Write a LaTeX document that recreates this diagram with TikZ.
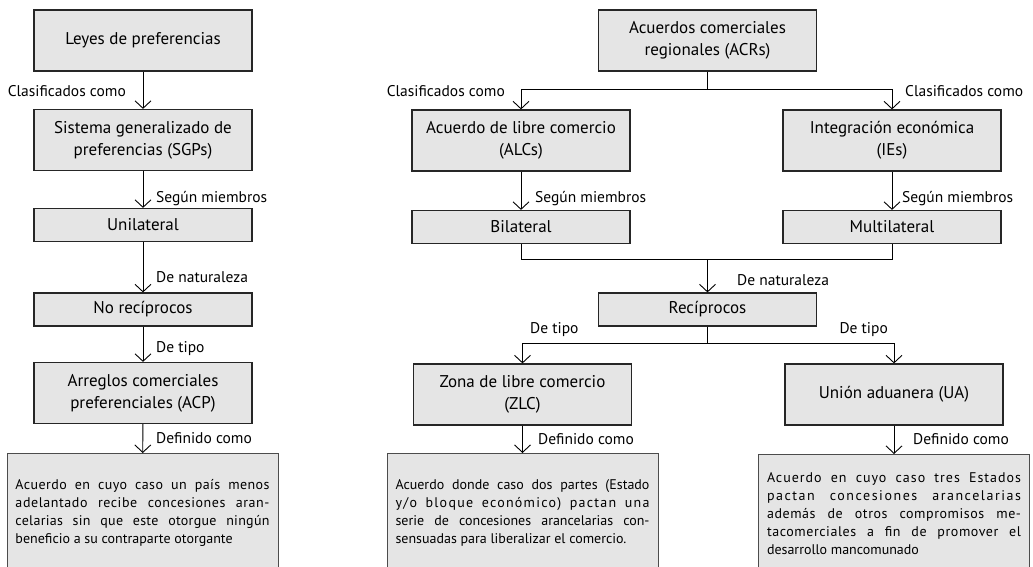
\documentclass[tikz,border=0pt]{standalone}
\usepackage{fontspec}
\setmainfont{PT Sans}
\usetikzlibrary{arrows.meta,positioning}
\tikzset{
  box/.style={draw=black!85, fill=black!10, line width=1.2pt, minimum width=218pt,
    inner sep=0pt, align=center, font=\fontsize{17}{22}\selectfont},
  tall/.style={box, minimum height=61pt},
  flat/.style={box, minimum height=33pt},
  defbox/.style={draw=black!70, fill=black!10, line width=1pt, minimum width=271pt,
    minimum height=118pt, inner sep=0pt, align=left, anchor=north,
    font=\fontsize{14}{18}\selectfont},
  lbl/.style={inner sep=0pt, font=\fontsize{15.5}{17}\selectfont},
  arr/.style={line width=0.9pt, -{Straight Barb[length=7.5pt,width=16pt]}},
  link/.style={line width=0.9pt}
}
\newcommand{\jline}[2][0]{\makebox[254pt][s]{\addfontfeature{LetterSpace=#1}#2}}

\begin{document}
\begin{tikzpicture}[x=1pt, y=-1pt]
  \useasboundingbox (0,0) rectangle (1033,567);

  % left column
  \node[tall] (leyes) at (143,40.5) {Leyes de preferencias};
  \node[tall] (sgp) at (143,140) {Sistema generalizado de\\preferencias (SGPs)};
  \node[flat] (uni) at (143,225) {Unilateral};
  \node[flat] (norec) at (143,309.5) {No recíprocos};
  \node[tall] (acp) at (143,393) {Arreglos comerciales\\preferenciales (ACP)};
  \node[defbox] (acpdef) at (142.5,453) {%
    \jline[3]{Acuerdo en cuyo caso un país menos}\\
    \jline[4]{adelantado recibe concesiones aran-}\\
    \jline[2]{celarias sin que este otorgue ningún}\\
    beneficio a su contraparte otorgante};

  \draw[arr] (leyes) -- (sgp);
  \draw[arr] (sgp) -- (uni);
  \draw[arr] (uni) -- (norec);
  \draw[arr] (norec) -- (acp);
  \draw[arr] (acp) -- (acpdef);

  \node[lbl, anchor=base east] (clasL) at (126,97) {Clasificados como};
  \node[lbl, anchor=base west] (segL) at (156,202) {Según miembros};
  \node[lbl, anchor=base west] (natL) at (156,282) {De naturaleza};
  \node[lbl, anchor=base west] (tipoL) at (156,352) {De tipo};
  \node[lbl, anchor=base west] (defL) at (156,443) {Definido como};

  % right part
  \node[tall] (acr) at (707.5,40.5) {Acuerdos comerciales\\regionales (ACRs)};
  \node[tall] (alc) at (521,140.5) {Acuerdo de libre comercio\\(ALCs)};
  \node[tall] (ie) at (892,140.5) {Integración económica\\(IEs)};
  \node[flat] (bil) at (521,227) {Bilateral};
  \node[flat] (mul) at (892,227) {Multilateral};
  \node[flat] (rec) at (707.5,309.5) {Recíprocos};
  \node[tall] (zlc) at (522.5,394.5) {Zona de libre comercio\\(ZLC)};
  \node[tall] (ua) at (894,394.5) {Unión aduanera (UA)};
  \node[defbox] (zlcdef) at (522.5,453) {%
    \jline{Acuerdo donde caso dos partes (Estado}\\
    \jline[9]{y/o bloque económico) pactan una}\\
    \jline{serie de concesiones arancelarias con-}\\
    sensuadas para liberalizar el comercio.};
  \node[defbox] (uadef) at (894,454) {%
    \jline[7]{Acuerdo en cuyo caso tres Estados}\\
    \jline[11]{pactan concesiones arancelarias}\\
    \jline[4]{además de otros compromisos me-}\\
    \jline[4]{tacomerciales a fin de promover el}\\
    desarrollo mancomunado};

  \draw[arr] (acr.south) -- ++(0,17.5) -| (alc.north);
  \draw[arr] (acr.south) -- ++(0,17.5) -| (ie.north);
  \draw[arr] (alc) -- (bil);
  \draw[arr] (ie) -- (mul);
  \coordinate (join) at (707.5,259.5);
  \draw[link] (bil.south) |- (join) -| (mul.south);
  \draw[arr] (join) -- (rec);
  \draw[arr] (rec.south) -- ++(0,17) -| (zlc.north);
  \draw[arr] (rec.south) -- ++(0,17) -| (ua.north);
  \draw[arr] (zlc) -- (zlcdef);
  \draw[arr] (ua) -- (uadef);

  \node[lbl, anchor=base east] (clasA) at (505,97) {Clasificados como};
  \node[lbl, anchor=base west] (clasI) at (905,97) {Clasificados como};
  \node[lbl, anchor=base west] (segA) at (535,202) {Según miembros};
  \node[lbl, anchor=base west] (segI) at (902,202) {Según miembros};
  \node[lbl, anchor=base west] (natM) at (737,285) {De naturaleza};
  \node[lbl, anchor=base west] (tipoZ) at (530,333) {De tipo};
  \node[lbl, anchor=base east] (tipoU) at (888,333) {De tipo};
  \node[lbl, anchor=base west] (defZ) at (538,444) {Definido como};
  \node[lbl, anchor=base west] (defU) at (913,444) {Definido como};
\end{tikzpicture}
\end{document}
